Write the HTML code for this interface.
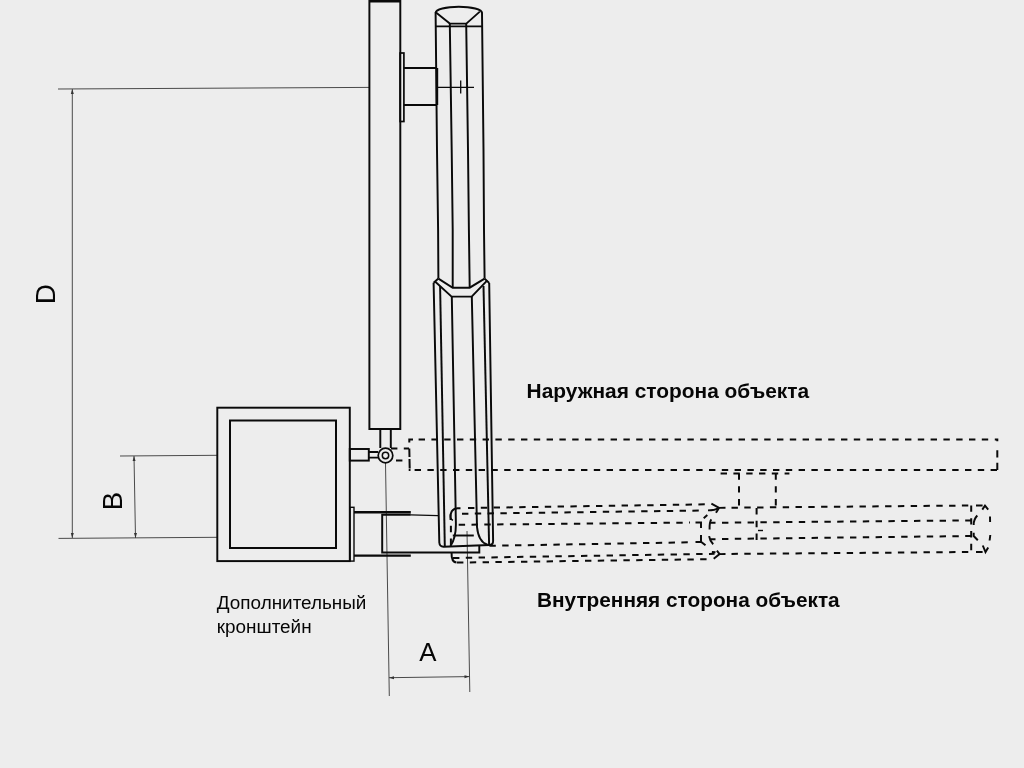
<!DOCTYPE html>
<html><head><meta charset="utf-8">
<style>
html,body{margin:0;padding:0;background:#ededed;}
body{width:1024px;height:768px;overflow:hidden;font-family:"Liberation Sans",sans-serif;}
svg{display:block;will-change:transform;}
text{font-family:"Liberation Sans",sans-serif;fill:#060606;}
.s{stroke:#0a0a0a;fill:none;stroke-width:1.95;stroke-linecap:butt;stroke-linejoin:miter;}
.t{stroke:#0a0a0a;fill:none;stroke-width:1.3;}
.k{stroke:#0a0a0a;fill:none;stroke-width:2.4;}
.d{stroke:#0a0a0a;fill:none;stroke-width:2;stroke-dasharray:6.4 6.4;}
.dim{stroke:#4a4a4a;fill:none;stroke-width:1;}
</style></head><body>
<svg width="1024" height="768" viewBox="0 0 1024 768">


<!-- dimension lines -->
<g class="dim">
<path d="M58 89 L369 87.4"/>
<path d="M72.3 89 L72.3 538"/>
<path d="M58.5 538.4 L217 537.3"/>
<path d="M120 456 L217 455.3"/>
<path d="M134 456 L135.5 538"/>
<path d="M385.5 463 L389.3 696"/>
<path d="M467 531 L469.8 692"/>
<path d="M389 677.7 L469.5 676.6"/>
</g>
<g fill="#333" stroke="none">
<path d="M72.3 89 L70.8 94 L73.8 94 Z"/>
<path d="M72.3 538 L70.8 533 L73.8 533 Z"/>
<path d="M134 456 L132.6 461 L135.6 461 Z"/>
<path d="M135.5 538 L134 533 L137 533 Z"/>
<path d="M389 677.7 L394 676.2 L394 679.2 Z"/>
<path d="M469.5 676.6 L464.5 675.2 L464.5 678.2 Z"/>
</g>

<!-- left column -->
<g class="s">
<path d="M369.4 0 L369.4 428.9 L400.3 428.9 L400.3 0"/>
<path d="M369 1.2 L401 1.2" stroke-width="2.6"/>
<!-- flange -->
<rect x="400.1" y="53" width="3.8" height="68.5" stroke-width="1.7"/>
<path d="M403.7 68 L437 68 M403.7 105 L437 105"/>
<path d="M437 68 L437 105" stroke-width="2.4"/>
<path d="M437 87.3 L474 87.3" class="t"/>
<path d="M460.7 80.5 L460.7 93.5" class="t"/>
<!-- stem -->
<path d="M380.3 429 L380.3 448 M390.8 429 L390.8 448"/>
</g>
<circle cx="385.5" cy="455.5" r="7.3" fill="#ededed" stroke="#0a0a0a" stroke-width="1.7"/>
<circle cx="385.5" cy="455.5" r="3.2" fill="none" stroke="#0a0a0a" stroke-width="1.5"/>

<!-- box -->
<g class="s">
<rect x="217.3" y="407.7" width="132.5" height="153.4"/>
<rect x="230" y="420.5" width="106" height="127.5" stroke-width="2"/>
<!-- small bracket -->
<rect x="349.8" y="449" width="19" height="11.6"/>
<path d="M368.8 452 L378 452 M368.8 457.6 L378 457.6"/>
<!-- lower bracket flange -->
<rect x="350" y="507.3" width="4" height="53.8" stroke-width="1.4"/>
<path d="M354 512.2 L410.8 512.2 M354 555.6 L410.8 555.6" stroke-width="2.4"/>
<path d="M410.8 514.8 L382.2 514.8 L382.2 552.5 L479.3 552.5 L479.3 546"/>
<path d="M410.8 514.8 L438 515.6" class="t"/>
</g>

<!-- pole upper -->
<g class="s">
<path d="M435.6 13 A23.2 6.3 0 0 1 482 13"/>
<path d="M435.6 12.5 L437 150 L438.1 230 L438.4 278.6"/>
<path d="M482 12.5 L483.5 150 L484 230 L484.6 278.6"/>
<path d="M436 12.5 L449.8 23.6 L466.3 23.6 L479.8 11.6" stroke-width="1.9"/>
<path d="M435.8 26.4 L482 26.4" stroke-width="1.7"/>
<path d="M449.8 23.4 L451.7 150 L452.7 230 L452.7 287.7"/>
<path d="M466.2 23.4 L468 150 L468.9 230 L469.7 287.7"/>
<!-- collar -->
<path d="M438.4 278.6 L452.7 287.7 L469.7 287.7 L484.6 278.6"/>
<path d="M435 281.5 L451.6 296.6 L471.7 296.6 L487.3 280.4"/>
<path d="M438.4 278.6 L433.6 282.7 M484.6 278.6 L489.2 283"/>
<!-- sleeve -->
<path d="M433.6 282.7 L439.3 542.5 Q439.6 546.6 443.5 546.7 L489.4 545 Q493.2 544.8 493.1 541 L489.2 283"/>
<path d="M440.1 286 L444.8 546.5"/>
<path d="M483.5 286 L489.1 545"/>
<path d="M451.8 296.6 L455.9 524 Q456 538 450.4 546.2"/>
<path d="M471.8 296.6 L477 527 Q478.5 542 487.5 544.8"/>
<path d="M452.8 535.5 L473.8 535.5"/>
</g>

<!-- dashed -->
<g class="d">
<path d="M418.6 439.6 L991 439.6"/>
<path d="M414.6 470 L997.3 470"/>
<path d="M409.3 442.6 L409.3 439.6 L413 439.6 M994.8 439.6 L997.3 439.6 L997.3 441.2 M997.3 450.2 L997.3 457.5 M997.3 462.7 L997.3 470 M409.3 448.4 L409.5 457 M409.5 459 L409.7 468.6 M408.7 470 L410.5 470" stroke-dasharray="none"/>
<path d="M391 448.4 L409 448.4 M396 460.6 L403 460.6"/>
<path d="M720.6 473.4 L789.4 473.4 M739 473.4 L739 506 M775.8 473.4 L775.8 506"/>
<!-- first tube -->
<path d="M450.9 545 L450.9 522"/>
<path d="M450.6 520 Q449.5 508.6 457.5 508.2 L460.5 508.15" stroke-dasharray="none"/>
<path d="M450.4 514.5 Q450.2 519.5 453 520.2" stroke-dasharray="none" stroke-width="1.6"/>
<path d="M468 508 L707 504.3"/>
<path d="M462 513.8 L702 510.5"/>
<path d="M458.7 524.8 L690 522.6"/>
<path d="M489.4 545.8 L690 542.3"/>
<path d="M453 558 L714.6 553.8"/>
<path d="M451.6 553 Q451.2 562 456.5 562.6" stroke-dasharray="none"/>
<path d="M457 562.6 L706.8 559.2"/>
<!-- second tube -->
<path d="M731.5 507.7 L970 505.5"/>
<path d="M722 522.7 L971 520.4"/>
<path d="M722 539 L971 536"/>
<path d="M731.5 553.9 L970 552"/>
<path d="M756.6 508 L756.6 540"/>
<path d="M971.2 505.4 L971.2 552"/>
</g>
<g class="s" stroke-width="2">
<!-- junction of tubes -->
<path d="M711.4 503.7 L719.1 507.8 L716 512.8"/>
<path d="M708 510.4 Q715 510.3 718 508.2"/>
<path d="M719.1 507.9 L725.5 507.8"/>
<path d="M703.7 518.2 L707.3 515"/>
<path d="M695.5 522.4 L701 522.4 L701 528"/>
<path d="M701 535 L701 541.7 L705.5 545.2 M695.5 541.9 L701 541.9"/>
<path d="M711.4 519.4 Q709.4 521.5 709.6 529.5 M709.6 522.8 L715.5 522.8"/>
<path d="M709.1 536.2 Q709.8 541 713.2 544.3 M710.3 539.3 L715.5 539.3"/>
<path d="M716.9 550.6 L719.6 554.1 L713.7 558.8"/>
<path d="M711.9 552 L715.5 552.3"/>
<path d="M719.6 554.1 L725.5 554"/>
<!-- right end -->
<path d="M982.3 509.6 L985 505.6 L988.2 509.6"/>
<path d="M982.8 545.5 L985.5 552 L988.2 547.4"/>
<path d="M990 516.4 L990.1 521.9 M990.3 535 L989.6 540.5"/>
<path d="M977.3 515.5 Q973.5 519.5 973.7 525"/>
<path d="M973.7 532.8 L973.7 536 L977.8 540.2"/>
<path d="M976 505.4 L982.6 505.4 M976 552 L982.6 552"/>
<path d="M758 530.5 L763 530.5" stroke-width="1.4"/>
</g>

<!-- text -->
<text x="526.6" y="397.8" font-size="20.9" font-weight="bold">Наружная сторона объекта</text>
<text x="537" y="606.8" font-size="20.8" font-weight="bold">Внутренняя сторона объекта</text>
<text x="216.8" y="609" font-size="18.9">Дополнительный</text>
<text x="216.8" y="633" font-size="18.9">кронштейн</text>
<text x="419.3" y="661.3" font-size="25.8">A</text>
<text transform="translate(55 304.3) rotate(-90)" font-size="28">D</text>
<text transform="translate(122 510.2) rotate(-90)" font-size="27.6">B</text>
</svg>
</body></html>
